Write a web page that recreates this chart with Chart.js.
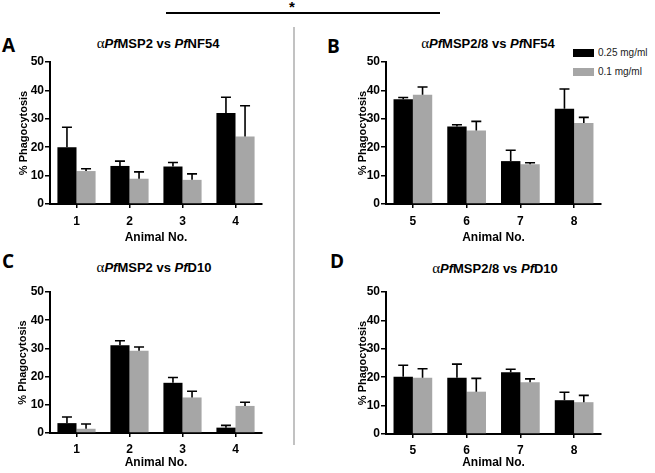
<!DOCTYPE html>
<html>
<head>
<meta charset="utf-8">
<script src="https://cdn.jsdelivr.net/npm/chart.js@4.4.0/dist/chart.umd.min.js"></script>
<style>
  body { margin: 0; background: #fff; width: 655px; height: 473px; position: relative; overflow: hidden;
         font-family: "Liberation Sans", Arial, sans-serif; color: #000; }
  .abs { position: absolute; }
  .letter { font-family: "Open Sans", "Liberation Sans", sans-serif; font-weight: bold; font-size: 19px;
            line-height: 1; transform: translateY(-50%); }
  .title { font-weight: bold; font-size: 13px; white-space: nowrap; line-height: 1;
           transform: translate(-50%, -50%); }
  .title .alpha { font-family: "Liberation Serif", serif; font-weight: normal; font-size: 15px; }
  .legend-box { width: 21px; height: 8px; }
  .legend-text { font-size: 10px; line-height: 1; transform: translateY(-50%); color: #222; }
  canvas { position: absolute; }
</style>
</head>
<body>

<!-- significance bar and separator -->
<div class="abs" style="left:166px; top:12px; width:274px; height:2px; background:#000;"></div>
<div class="abs" style="left:289px; top:-2px; font-size:15px; font-weight:bold;">*</div>
<div class="abs" style="left:293px; top:27px; width:2px; height:418px; background:#c2c2c2;"></div>

<!-- panel letters -->
<div class="abs letter" style="left:2px; top:45px;">A</div>
<div class="abs letter" style="left:327px; top:46px;">B</div>
<div class="abs letter" style="left:2px; top:261px;">C</div>
<div class="abs letter" style="left:330px; top:261px;">D</div>

<!-- panel titles -->
<div class="abs title" style="left:158px; top:43px;"><span class="alpha">α</span><i>Pf</i>MSP2 vs <i>Pf</i>NF54</div>
<div class="abs title" style="left:488px; top:43px;"><span class="alpha">α</span><i>Pf</i>MSP2/8 vs <i>Pf</i>NF54</div>
<div class="abs title" style="left:154px; top:267px;"><span class="alpha">α</span><i>Pf</i>MSP2 vs <i>Pf</i>D10</div>
<div class="abs title" style="left:495px; top:268px;"><span class="alpha">α</span><i>Pf</i>MSP2/8 vs <i>Pf</i>D10</div>

<!-- legend -->
<div class="abs legend-box" style="left:573px; top:49px; background:#000;"></div>
<div class="abs legend-text" id="leg1" style="left:598px; top:53px;"></div>
<div class="abs legend-box" style="left:573px; top:68px; background:#a6a6a6;"></div>
<div class="abs legend-text" id="leg2" style="left:598px; top:72px;"></div>

<canvas id="chartA"></canvas>
<canvas id="chartB"></canvas>
<canvas id="chartC"></canvas>
<canvas id="chartD"></canvas>

<script>
// animals and doses
const animalsA = ['1', '2', '3', '4'];
const animalsB = ['5', '6', '7', '8'];
const doses = ['0.25 mg/ml', '0.1 mg/ml'];

// % phagocytosis, mean and upper error
const nf54Msp2High = [20, 13.4, 13.2, 32];
const nf54Msp2HighErr = [7, 1.7, 1.4, 5.6];
const nf54Msp2Low = [11.6, 8.9, 8.5, 23.8];
const nf54Msp2LowErr = [0.8, 2.4, 2.1, 10.8];

const nf54Msp28High = [36.9, 27.3, 15.1, 33.5];
const nf54Msp28HighErr = [0.6, 0.6, 3.8, 7];
const nf54Msp28Low = [38.5, 25.9, 14.0, 28.5];
const nf54Msp28LowErr = [2.7, 3.2, 0.5, 2];

const d10Msp2High = [3.5, 31.1, 17.8, 1.9];
const d10Msp2HighErr = [2.2, 1.6, 1.9, 0.8];
const d10Msp2Low = [1.5, 29.2, 12.6, 9.6];
const d10Msp2LowErr = [1.7, 1.3, 2.2, 1.3];

const d10Msp28High = [20.2, 19.8, 21.7, 11.9];
const d10Msp28HighErr = [4, 4.8, 1.1, 2.8];
const d10Msp28Low = [19.8, 14.9, 18.2, 11.2];
const d10Msp28LowErr = [3.2, 4.7, 1.2, 2.4];

const yTicks = [0, 10, 20, 30, 40, 50];

const black = '#000000';
const grey = '#a6a6a6';
const fontFamily = '"Liberation Sans", Arial, sans-serif';

document.getElementById('leg1').textContent = doses[0];
document.getElementById('leg2').textContent = doses[1];

// error bars: only the upper whisker
const errorBars = {
  id: 'errorBars',
  afterDatasetsDraw(chart) {
    const ctx = chart.ctx;
    const yScale = chart.scales.y;
    ctx.save();
    ctx.strokeStyle = '#000';
    ctx.lineWidth = 1.6;
    chart.data.datasets.forEach((ds, i) => {
      const meta = chart.getDatasetMeta(i);
      meta.data.forEach((bar, j) => {
        const top = yScale.getPixelForValue(ds.data[j] + ds.errors[j]);
        ctx.beginPath();
        ctx.moveTo(bar.x, bar.y);
        ctx.lineTo(bar.x, top);
        ctx.moveTo(bar.x - 5, top);
        ctx.lineTo(bar.x + 5, top);
        ctx.stroke();
      });
    });
    ctx.restore();
  },
};

function createChart(id, layout, labels, high, highErr, low, lowErr) {
  const canvas = document.getElementById(id);
  const yWidth = 50;
  const padTop = 10;
  const padRight = 10;
  canvas.width = yWidth + layout.areaW + padRight;
  canvas.height = padTop + layout.areaH + layout.xH;
  canvas.style.left = (layout.axisX - yWidth) + 'px';
  canvas.style.top = (layout.areaTop - padTop) + 'px';

  const tickFont = { family: fontFamily, size: 12, weight: 'bold' };

  return new Chart(canvas.getContext('2d'), {
    type: 'bar',
    data: {
      labels: labels,
      datasets: [
        { label: doses[0], data: high, errors: highErr, backgroundColor: black },
        { label: doses[1], data: low, errors: lowErr, backgroundColor: grey },
      ],
    },
    options: {
      responsive: false,
      animation: false,
      devicePixelRatio: 1,
      layout: { padding: { top: padTop, right: padRight, left: 0, bottom: 0 } },
      datasets: { bar: { categoryPercentage: 0.72, barPercentage: 1.0 } },
      plugins: { legend: { display: false }, tooltip: { enabled: false } },
      scales: {
        x: {
          grid: { display: true, drawOnChartArea: false, drawTicks: true, tickLength: 4,
                  color: '#000', lineWidth: 1.5, offset: false },
          border: { display: true, color: '#000', width: 2 },
          ticks: { font: tickFont, color: '#000', padding: layout.tickPad },
          title: { display: true, text: 'Animal No.', font: tickFont, color: '#000',
                   padding: { top: 0, bottom: 0 } },
          afterFit: (s) => { s.height = layout.xH; },
        },
        y: {
          min: 0,
          max: 50,
          afterBuildTicks: (s) => { s.ticks = yTicks.map((v) => ({ value: v })); },
          grid: { display: true, drawOnChartArea: false, drawTicks: true, tickLength: 5,
                  color: '#000', lineWidth: 1.5 },
          border: { display: true, color: '#000', width: 2 },
          ticks: { font: tickFont, color: '#000', padding: 1 },
          title: { display: true, text: '% Phagocytosis', font: { family: fontFamily, size: 11, weight: 'bold' },
                   color: '#000', padding: { top: layout.yTitlePad, bottom: 0 } },
          afterFit: (s) => { s.width = yWidth; },
        },
      },
    },
    plugins: [errorBars],
  });
}

createChart('chartA', { axisX: 50, areaTop: 62, areaW: 212, areaH: 142, xH: 41, tickPad: 6, yTitlePad: 17 },
  animalsA, nf54Msp2High, nf54Msp2HighErr, nf54Msp2Low, nf54Msp2LowErr);
createChart('chartB', { axisX: 386, areaTop: 62, areaW: 215, areaH: 142, xH: 41, tickPad: 6, yTitlePad: 20 },
  animalsB, nf54Msp28High, nf54Msp28HighErr, nf54Msp28Low, nf54Msp28LowErr);
createChart('chartC', { axisX: 50, areaTop: 292, areaW: 212, areaH: 141, xH: 37, tickPad: 5, yTitlePad: 16 },
  animalsA, d10Msp2High, d10Msp2HighErr, d10Msp2Low, d10Msp2LowErr);
createChart('chartD', { axisX: 386, areaTop: 292, areaW: 215, areaH: 142, xH: 36, tickPad: 5, yTitlePad: 20 },
  animalsB, d10Msp28High, d10Msp28HighErr, d10Msp28Low, d10Msp28LowErr);
</script>
</body>
</html>
